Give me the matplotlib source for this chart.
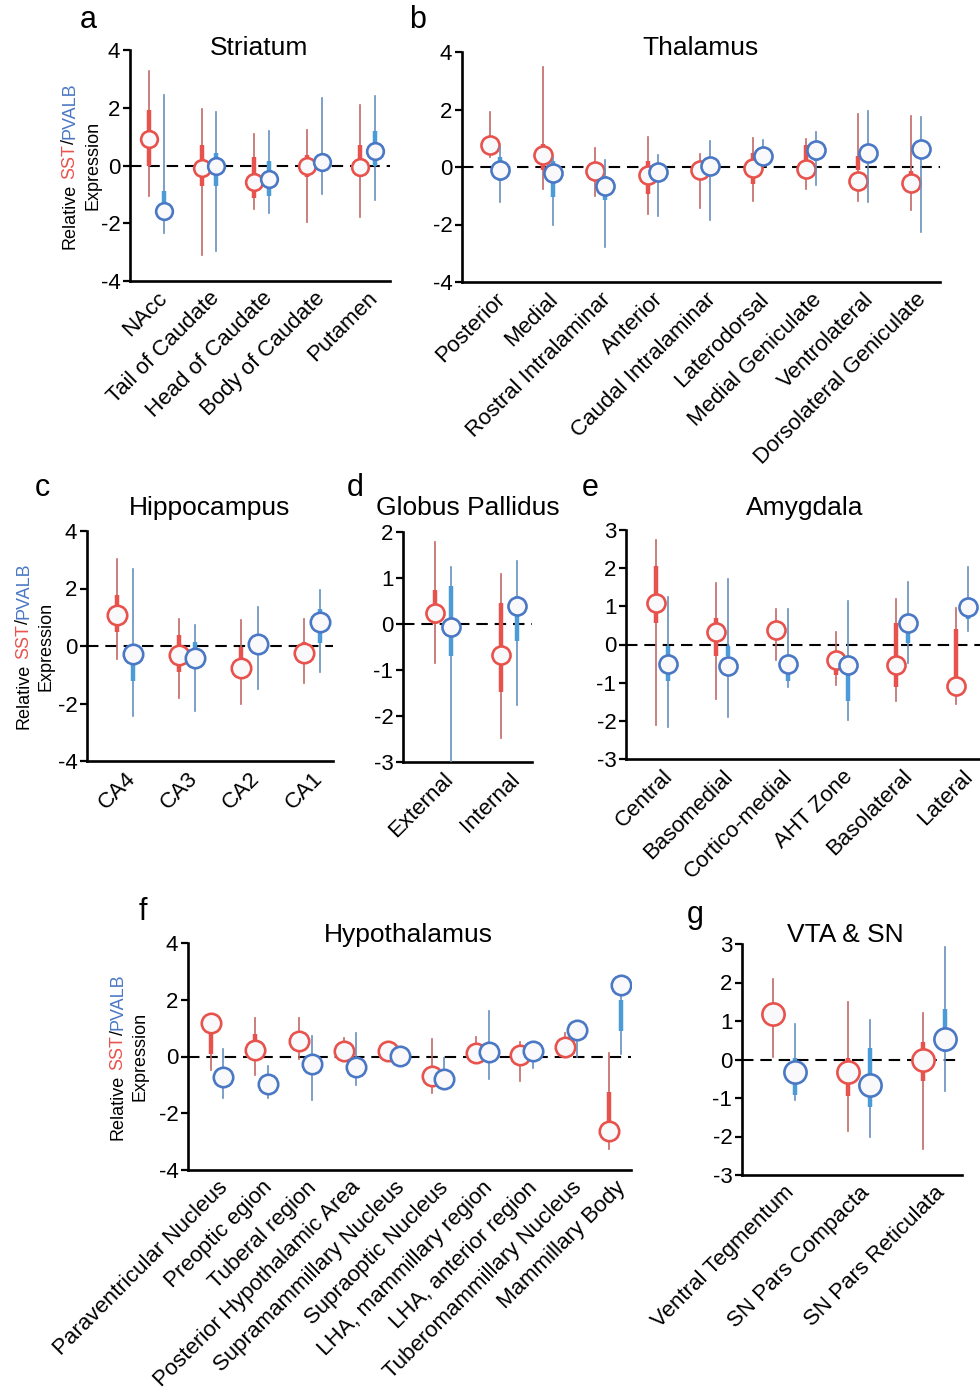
import numpy as np
import matplotlib
matplotlib.use("Agg")
import matplotlib.pyplot as plt
from matplotlib.transforms import ScaledTranslation

plt.rcParams['font.family'] = ['Liberation Sans', 'DejaVu Sans']

# ---- data: median (circle), inner bar (thick), range (thin) ----
# a  Striatum
str_labels = ["NAcc", "Tail of Caudate", "Head of Caudate", "Body of Caudate", "Putamen"]
str_sst_med = [0.93, -0.08, -0.58, 0.0, -0.05]
str_sst_box = [(0.0, 1.92), (-0.7, 0.72), (-1.14, 0.29), (-0.4, 0.35), (-0.4, 0.7)]
str_sst_rng = [(-1.05, 3.26), (-3.1, 1.95), (-1.5, 1.1), (-1.94, 1.24), (-1.8, 2.09)]
str_pv_med = [-1.58, 0.0, -0.48, 0.12, 0.5]
str_pv_box = [(-1.9, -0.87), (-0.7, 0.45), (-1.05, 0.15), None, (0.0, 1.19)]
str_pv_rng = [(-2.35, 2.44), (-2.97, 1.86), (-1.66, 1.2), (-0.99, 2.35), (-1.2, 2.4)]

# b  Thalamus
thal_labels = ["Posterior", "Medial", "Rostral Intralaminar", "Anterior", "Caudal Intralaminar",
               "Laterodorsal", "Medial Geniculate", "Ventrolateral", "Dorsolateral Geniculate"]
thal_sst_med = [0.76, 0.41, -0.15, -0.27, -0.1, -0.05, -0.07, -0.47, -0.56]
thal_sst_box = [None, (-0.1, 0.8), (-0.4, 0.1), (-0.93, 0.2), None, (-0.58, 0.5), (-0.3, 0.75),
                (-0.1, 0.4), (-0.5, -0.15)]
thal_sst_rng = [(0.35, 1.92), (-0.76, 3.49), (-1.02, 0.67), (-1.63, 1.05), (-1.42, 0.45),
                (-1.19, 1.02), (-0.76, 0.99), (-1.19, 1.86), (-1.48, 1.77)]
thal_pv_med = [-0.1, -0.2, -0.67, -0.18, 0.02, 0.4, 0.58, 0.47, 0.64]
thal_pv_box = [(-0.5, 0.35), (-1.05, 0.2), (-1.15, -0.3), None, None, None, (0.2, 0.8), None, None]
thal_pv_rng = [(-1.22, 0.7), (-2.01, 0.3), (-2.79, 0.26), (-1.72, 0.41), (-1.84, 0.9),
               (0.1, 0.95), (-0.64, 1.22), (-1.22, 1.94), (-2.27, 1.74)]

# c  Hippocampus
hip_labels = ["CA4", "CA3", "CA2", "CA1"]
hip_sst_med = [1.08, -0.31, -0.77, -0.23]
hip_sst_box = [(0.5, 1.79), (-0.92, 0.38), (-0.5, -0.05), (-0.2, 0.15)]
hip_sst_rng = [(-0.46, 3.04), (-1.82, 0.94), (-2.02, 0.9), (-1.27, 0.94)]
hip_pv_med = [-0.28, -0.43, 0.06, 0.84]
hip_pv_box = [(-1.2, -0.6), (-0.2, 0.15), None, (0.12, 1.3)]
hip_pv_rng = [(-2.45, 2.69), (-2.25, 0.73), (-1.49, 1.36), (-0.92, 1.94)]

# d  Globus Pallidus
gp_labels = ["External", "Internal"]
gp_sst_med = [0.24, -0.67]
gp_sst_box = [(0.0, 0.75), (-1.47, 0.45)]
gp_sst_rng = [(-0.85, 1.79), (-2.47, 1.08)]
gp_pv_med = [-0.07, 0.4]
gp_pv_box = [(-0.69, 0.82), (-0.38, 0.6)]
gp_pv_rng = [(-3.0, 1.23), (-1.77, 1.36)]

# e  Amygdala
amy_labels = ["Central", "Basomedial", "Cortico-medial", "AHT Zone", "Basolateral", "Lateral"]
amy_sst_med = [1.1, 0.34, 0.38, -0.4, -0.55, -1.1]
amy_sst_box = [(0.57, 2.05), (-0.3, 0.7), None, (-0.8, -0.4), (-1.11, 0.57), (-0.9, 0.41)]
amy_sst_rng = [(-2.1, 2.73), (-1.44, 1.6), (-0.4, 0.93), (-1.05, 0.32), (-1.49, 1.18), (-1.55, 0.95)]
amy_pv_med = [-0.5, -0.57, -0.5, -0.53, 0.57, 0.99]
amy_pv_box = [(-0.95, -0.05), (-0.3, -0.05), (-0.95, -0.5), (-1.49, -0.3), (0.05, 0.3), (0.66, 1.2)]
amy_pv_rng = [(-2.16, 1.25), (-1.9, 1.71), (-1.11, 0.93), (-1.98, 1.14), (-0.49, 1.63), (0.36, 2.02)]

# f  Hypothalamus
hyp_labels = ["Paraventricular Nucleus", "Preoptic egion", "Tuberal region",
              "Posterior Hypothalamic Area", "Supramammillary Nucleus", "Supraoptic Nucleus",
              "LHA, mammillary region", "LHA, anterior region", "Tuberomammillary Nucleus",
              "Mammillary Body"]
hyp_sst_med = [1.19, 0.23, 0.55, 0.2, 0.2, -0.7, 0.12, 0.06, 0.35, -2.62]
hyp_sst_box = [(0.1, 1.0), (0.0, 0.81), None, None, None, None, None, None, None, (-2.3, -1.24)]
hyp_sst_rng = [(-0.47, 1.19), (-0.64, 1.34), (-0.1, 1.36), (-0.1, 0.66), (0.05, 0.35),
               (-1.28, 0.6), (-0.1, 0.67), (-0.85, 0.5), (0.0, 0.84), (-3.26, 0.12)]
hyp_pv_med = [-0.73, -0.97, -0.27, -0.37, 0.03, -0.78, 0.17, 0.2, 0.93, 2.52]
hyp_pv_box = [None, None, None, None, None, None, None, None, None, (0.91, 2.0)]
hyp_pv_rng = [(-1.45, 0.27), (-1.45, -0.35), (-1.55, 0.73), (-1.01, 0.84), None,
              (-1.1, -0.05), (-0.78, 1.6), (-0.41, 0.5), (0.0, 0.6), (0.08, 2.3)]

# g  VTA & SN
vta_labels = ["Ventral Tegmentum", "SN Pars Compacta", "SN Pars Reticulata"]
vta_sst_med = [1.17, -0.32, -0.02]
vta_sst_box = [None, (-0.96, 0.05), (-0.55, 0.45)]
vta_sst_rng = [(0.07, 2.1), (-1.85, 1.5), (-2.33, 1.2)]
vta_pv_med = [-0.33, -0.65, 0.52]
vta_pv_box = [(-0.91, 0.05), (-1.24, 0.3), (0.2, 1.32)]
vta_pv_rng = [(-1.04, 0.91), (-2.0, 1.02), (-0.83, 2.93)]

RED = '#e8524c'
RED_THIN = '#c26866'
BLUE = '#4a78c4'
BLUE_THICK = '#4b9bd8'
BLUE_THIN = '#6790bd'
FACE = '#f9f9fc'

W, H = 980, 1394
fig = plt.figure(figsize=(W / 100, H / 100), dpi=100)


def panel(box, labels, sst, pv, ylim, yticks, off, xlim, ms):
    x0, y0, x1, y1 = box
    ax = fig.add_axes([x0 / W, 1 - y1 / H, (x1 - x0) / W, (y1 - y0) / H])
    x = np.arange(len(labels))
    ax.axhline(0, color='k', lw=1.5, dashes=(5.5, 3.3), zorder=1)
    series = [(x - off, sst, RED, RED_THIN, RED, 2),
              (x + off, pv, BLUE, BLUE_THIN, BLUE_THICK, 5)]
    for xs, (med, iqr, rng), col, thin, thick, z in series:
        for xi, m, q, r in zip(xs, med, iqr, rng):
            if r:
                ax.plot([xi, xi], r, color=thin, lw=1.2, zorder=z)
            if q:
                ax.plot([xi, xi], q, color=thick, lw=3.2, solid_capstyle='butt', zorder=z + 0.5)
            ax.plot(xi, m, 'o', ms=ms, mfc=FACE, mec=col, mew=1.9, zorder=z + 1)
    ax.set_xlim(*xlim)
    ax.set_ylim(*ylim)
    ax.set_yticks(yticks)
    ax.set_yticklabels([str(t) for t in yticks], fontsize=16)
    ax.set_xticks(x)
    ax.set_xticklabels(labels, rotation=45, ha='right', va='top', rotation_mode='anchor', fontsize=16)
    for lab in ax.get_xticklabels():
        lab.set_transform(lab.get_transform() + ScaledTranslation(5 / 100, 0, fig.dpi_scale_trans))
    ax.tick_params(axis='x', length=0, pad=5)
    ax.tick_params(axis='y', length=5, width=1.6, pad=2)
    for s in ('top', 'right'):
        ax.spines[s].set_visible(False)
    for s in ('left', 'bottom'):
        ax.spines[s].set_linewidth(1.9)
    ax.patch.set_alpha(0)
    return ax


def ylab(box, xl1, xl2):
    yc = H - (box[1] + box[3]) / 2
    r = fig.canvas.get_renderer()
    parts = [("Relative", 'k'), ("SST", RED), ("/", 'k'), ("PVALB", BLUE)]
    gaps = [5, 0, 0, 0]
    ts = [fig.text(xl1 / W, 0, s, color=c, rotation=90, fontsize=13, ha='center', va='bottom')
          for s, c in parts]
    hs = [t.get_window_extent(r).height for t in ts]
    y = yc - (sum(hs) + sum(gaps)) / 2
    for t, h, g in zip(ts, hs, gaps):
        t.set_y(y / H)
        y += h + g
    fig.text(xl2 / W, yc / H, "Expression", rotation=90, fontsize=13, ha='center', va='center')


box_a = (130, 50, 390, 281)
box_b = (462, 52, 940, 282)
box_c = (87, 531, 333, 761)
box_d = (403, 532, 532, 762)
box_e = (626, 530, 982, 759)
box_f = (188, 943, 631, 1170)
box_g = (742, 944, 962, 1175)

panel(box_a, str_labels, (str_sst_med, str_sst_box, str_sst_rng),
      (str_pv_med, str_pv_box, str_pv_rng), (-4, 4), [-4, -2, 0, 2, 4], 0.14, (-0.5, 4.43), 12)
panel(box_b, thal_labels, (thal_sst_med, thal_sst_box, thal_sst_rng),
      (thal_pv_med, thal_pv_box, thal_pv_rng), (-4, 4), [-4, -2, 0, 2, 4], 0.095, (-0.63, 8.46), 13)
panel(box_c, hip_labels, (hip_sst_med, hip_sst_box, hip_sst_rng),
      (hip_pv_med, hip_pv_box, hip_pv_rng), (-4, 4), [-4, -2, 0, 2, 4], 0.13, (-0.61, 3.34), 14)
panel(box_d, gp_labels, (gp_sst_med, gp_sst_box, gp_sst_rng),
      (gp_pv_med, gp_pv_box, gp_pv_rng), (-3, 2), [-3, -2, -1, 0, 1, 2], 0.12, (-0.6, 1.35), 13)
panel(box_e, amy_labels, (amy_sst_med, amy_sst_box, amy_sst_rng),
      (amy_pv_med, amy_pv_box, amy_pv_rng), (-3, 3), [-3, -2, -1, 0, 1, 2, 3], 0.1, (-0.6, 5.33), 13)
panel(box_f, hyp_labels, (hyp_sst_med, hyp_sst_box, hyp_sst_rng),
      (hyp_pv_med, hyp_pv_box, hyp_pv_rng), (-4, 4), [-4, -2, 0, 2, 4], 0.14, (-0.66, 9.36), 14)
panel(box_g, vta_labels, (vta_sst_med, vta_sst_box, vta_sst_rng),
      (vta_pv_med, vta_pv_box, vta_pv_rng), (-3, 3), [-3, -2, -1, 0, 1, 2, 3], 0.15, (-0.56, 2.37), 16)

ylab(box_a, 70, 93)
ylab(box_c, 24, 46)
ylab(box_f, 118, 140)

titles = [("Striatum", 259, 48), ("Thalamus", 700, 48), ("Hippocampus", 210, 508),
          ("Globus Pallidus", 468, 508), ("Amygdala", 805, 508), ("Hypothalamus", 408, 935),
          ("VTA & SN", 845, 935)]
for s, x, y in titles:
    fig.text(x / W, 1 - y / H, s, fontsize=19, ha='center', va='center')

letters = [("a", 88, 20), ("b", 418, 20), ("c", 42, 488), ("d", 355, 488), ("e", 590, 488),
           ("f", 143, 912), ("g", 695, 915)]
for s, x, y in letters:
    fig.text(x / W, 1 - y / H, s, fontsize=22, ha='center', va='center')

fig.savefig("out.png", dpi=100)
